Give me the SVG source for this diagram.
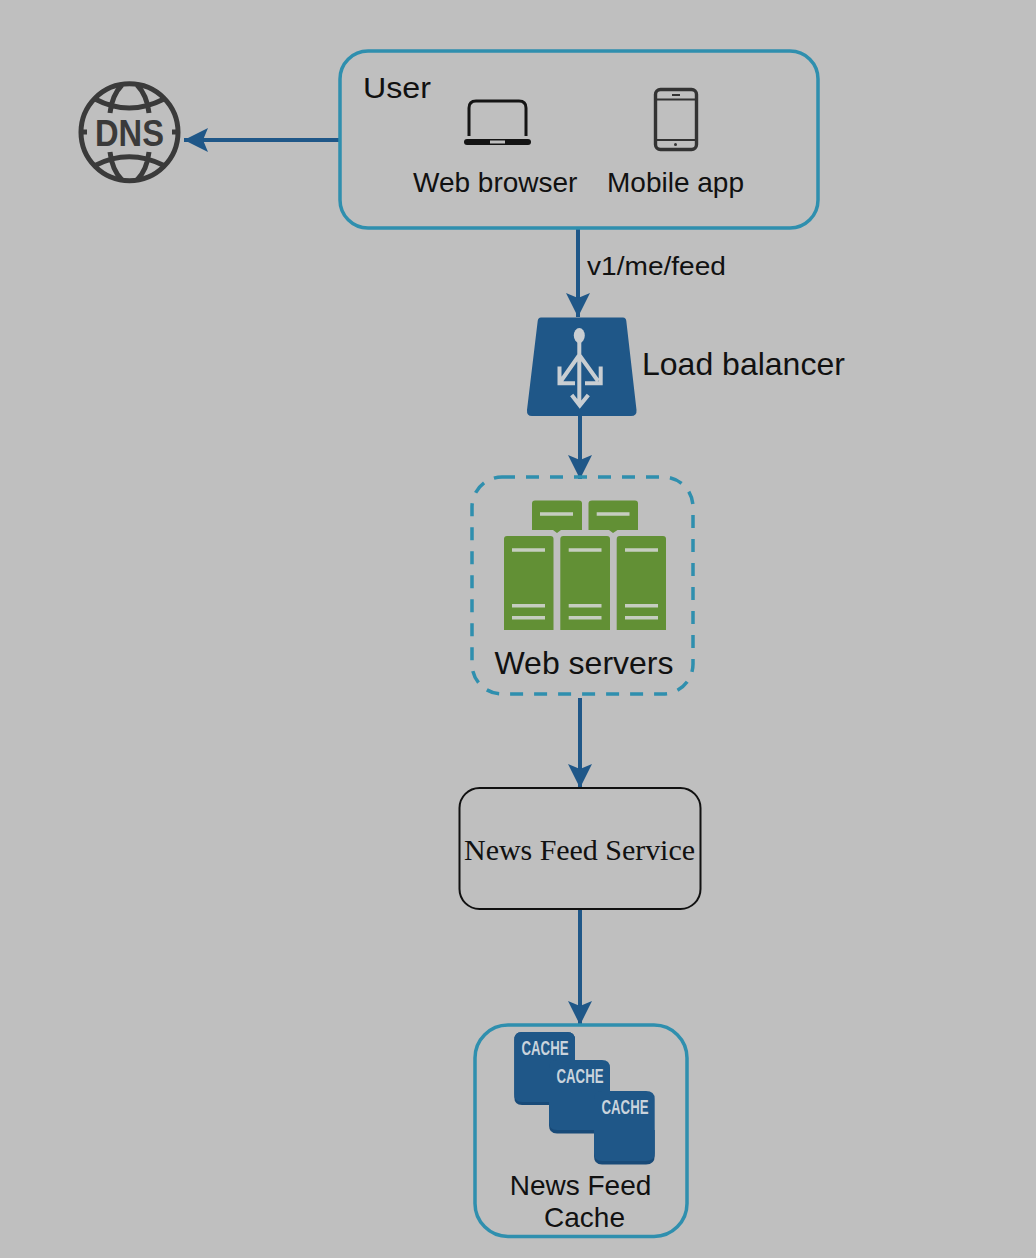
<svg xmlns="http://www.w3.org/2000/svg" width="1036" height="1258" viewBox="0 0 1036 1258">
<style>
text{font-family:"Liberation Sans",Arial,sans-serif;fill:#111}
.lbl{font-size:28px}
.box{fill:none;stroke:#2f8fae;stroke-width:3.5}
.conn{fill:none;stroke:#1f5788;stroke-width:4}
.srv{fill:#629035}
.bar{stroke:#c6cdc0;stroke-width:3.4;fill:none}
.dns{fill:none;stroke:#3a3a3a;stroke-width:5}
.ic{fill:none;stroke:#141414}
.lb{fill:none;stroke:#c9ced2;stroke-width:4}
.cache{fill:#1f5788}
.cs{fill:#184a78}
.ct{font-family:"Liberation Sans Narrow","Liberation Sans",sans-serif;font-size:21px;font-weight:bold;fill:#c9d3dc}
</style>
<defs>
<marker id="ah" markerUnits="userSpaceOnUse" markerWidth="26" markerHeight="26" refX="24" refY="12" orient="auto"><path d="M0 0L24 12L0 24L5 12Z" fill="#1f5788"/></marker>
</defs>
<rect width="1036" height="1258" fill="#bfbfbf"/>
<g id="connectors">
<path class="conn" d="M340 140H184" marker-end="url(#ah)"/>
<path class="conn" d="M578 228V317" marker-end="url(#ah)"/>
<path class="conn" d="M580 414V479" marker-end="url(#ah)"/>
<path class="conn" d="M580 698V788" marker-end="url(#ah)"/>
<path class="conn" d="M580 909V1025" marker-end="url(#ah)"/>
</g>
<g id="dns">
<circle class="dns" cx="129.500" cy="132.300" r="48.500"/>
<path class="dns" d="M95 99Q129 117 164 99M95 165.500Q129 148 164 165.500M110 113Q112 95 122 85M149 113Q147 95 137 85M110 152Q112 170 122 180M149 152Q147 170 137 180M79 132H87M172 132H180"/>
<text x="129.500" y="146" text-anchor="middle" style="font-size:37px;font-weight:bold;fill:#3a3a3a" textLength="69" lengthAdjust="spacingAndGlyphs">DNS</text>
</g>
<g id="user">
<rect class="box" x="340" y="51" width="478" height="177" rx="28"/>
<text class="lbl" x="363" y="98" style="font-size:30px" textLength="68" lengthAdjust="spacingAndGlyphs">User</text>
<path class="ic" stroke-width="3" d="M469 136V108Q469 101 476 101H519Q526 101 526 108V136"/>
<rect x="464" y="139" width="67" height="6" rx="3" fill="#141414"/>
<rect x="490" y="140.500" width="15" height="3" fill="#bfbfbf"/>
<rect class="ic" x="655.500" y="89.500" width="41" height="60" rx="5" stroke="#333" stroke-width="3.400" style="stroke:#333"/>
<path d="M656 99.500H696M656 140H696" stroke="#333" stroke-width="1.800" fill="none"/>
<path d="M672 95H680" stroke="#333" stroke-width="2"/>
<circle cx="675.500" cy="144.500" r="1.500" fill="#333"/>
<text class="lbl" x="413" y="192">Web browser</text>
<text class="lbl" x="607" y="192">Mobile app</text>
</g>
<text id="edge-label" x="587" y="275" style="font-size:26px" textLength="139" lengthAdjust="spacingAndGlyphs">v1/me/feed</text>
<g id="load-balancer">
<path d="M541 317.500H623Q626 317.500 626.300 321L636.500 410Q637 416 631 416H532Q526.500 416 527 410L537.700 321Q538 317.500 541 317.500Z" fill="#1f5788"/>
<ellipse cx="579.300" cy="335.500" rx="5.500" ry="7.500" fill="#c9ced2"/>
<path class="lb" d="M579.300 342V405M579.300 355L561 381M579.300 355L598 381M559.500 366.500V383.300H575M600.700 366.500V383.300H585M571.700 395L579.800 405.500L588.300 395"/>
<text class="lbl" x="642" y="375" style="font-size:32px">Load balancer</text>
</g>
<g id="web-servers">
<rect class="box" x="472" y="477" width="221" height="217" rx="30" stroke-dasharray="13 11"/>
<path class="srv" d="M535 500.500H579Q582 500.500 582 503.500V530H561L557 533L553 530H532V503.500Q532 500.500 535 500.500Z"/>
<path class="srv" d="M592 500.500H635Q638 500.500 638 503.500V530H617.500L613 533L609 530H588.500V503.500Q588.500 500.500 592 500.500Z"/>
<path class="srv" d="M507 536H550.500Q553.500 536 553.500 539V630H504V539Q504 536 507 536Z"/>
<path class="srv" d="M563.300 536H607Q610 536 610 539V630H560.300V539Q560.300 536 563.300 536Z"/>
<path class="srv" d="M619.700 536H663Q666 536 666 539V630H616.700V539Q616.700 536 619.700 536Z"/>
<path class="bar" d="M540 514H573M596.700 514H629.500M512 550H545M568.700 550H601.500M625 550H658M512 605.700H545M568.700 605.700H601.500M625 605.700H658M512 617.700H545M568.700 617.700H601.500M625 617.700H658"/>
<text class="lbl" x="584" y="674" text-anchor="middle" style="font-size:32px" textLength="179" lengthAdjust="spacingAndGlyphs">Web servers</text>
</g>
<g id="news-feed-service">
<rect x="459.500" y="788" width="241" height="121" rx="20" fill="none" stroke="#111" stroke-width="2"/>
<text x="579.500" y="860" text-anchor="middle" style="font-family:'Liberation Serif',serif;font-size:30px" textLength="231" lengthAdjust="spacing">News Feed Service</text>
</g>
<g id="news-feed-cache">
<rect class="box" x="475" y="1025" width="212" height="211.500" rx="33"/>
<path class="cs" d="M514.300 1040Q514.300 1032 522 1032H567Q575 1032 575 1040V1105H522Q514.300 1105 514.300 1097Z"/>
<path class="cache" d="M514.300 1040Q514.300 1032 522 1032H567Q575 1032 575 1040V1102H522Q514.300 1102 514.300 1094Z"/>
<path class="cs" d="M549 1102H610V1133.500H557Q549 1133.500 549 1125Z"/>
<path class="cache" d="M549 1068Q549 1060 557 1060H602Q610 1060 610 1068V1130H557Q549 1130 549 1122Z"/>
<path class="cs" d="M594 1130H654.700V1156Q654.700 1164.500 646 1164.500H602Q594 1164.500 594 1156Z"/>
<path class="cache" d="M594 1099Q594 1091 602 1091H646Q654.700 1091 654.700 1099V1153Q654.700 1161 646 1161H602Q594 1161 594 1153Z"/>
<text class="ct" x="545" y="1055" text-anchor="middle" textLength="47" lengthAdjust="spacingAndGlyphs">CACHE</text>
<text class="ct" x="580" y="1083" text-anchor="middle" textLength="47" lengthAdjust="spacingAndGlyphs">CACHE</text>
<text class="ct" x="625" y="1114" text-anchor="middle" textLength="47" lengthAdjust="spacingAndGlyphs">CACHE</text>
<text class="lbl" x="580.500" y="1195" text-anchor="middle">News Feed</text>
<text class="lbl" x="584.500" y="1227" text-anchor="middle">Cache</text>
</g>
</svg>
